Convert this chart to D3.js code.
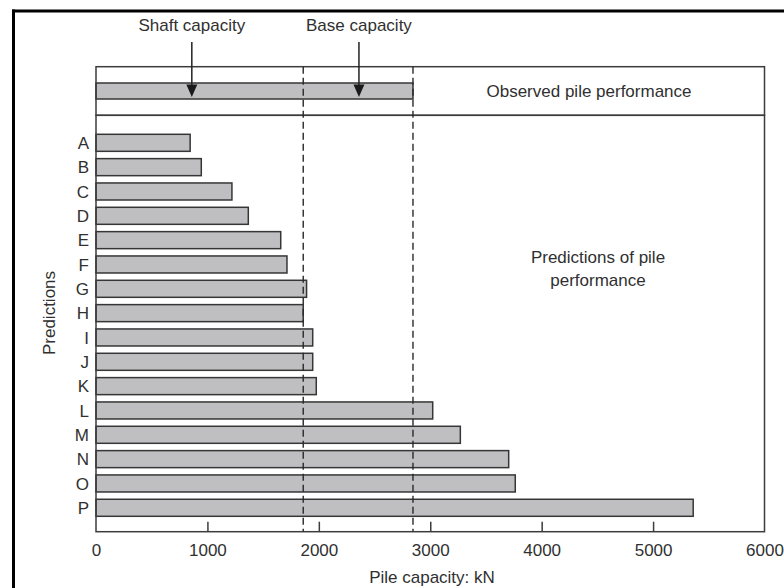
<!DOCTYPE html>
<html>
<head>
<meta charset="utf-8">
<script src="https://cdn.jsdelivr.net/npm/d3@7"></script>
<style>
  html, body { margin: 0; padding: 0; background: #fff; }
  svg { display: block; }
  text { font-family: "Liberation Sans", Arial, Helvetica, sans-serif; fill: #303030; }
</style>
</head>
<body>
<svg id="chart" width="784" height="588"></svg>
<script>
// Predicted pile capacities (kN) for each predictor
const predictors = ["A","B","C","D","E","F","G","H","I","J","K","L","M","N","O","P"];
const predictedCapacity = [845, 945, 1220, 1367, 1658, 1714, 1890, 1860, 1945, 1945, 1977, 3022, 3270, 3704, 3763, 5360];

// Measured load test result
const observedCapacity = [2845];
const observedLabel = ["Observed pile performance"];

// Reference lines: shaft capacity and total (shaft + base) capacity
const referenceLines = [1860, 2845];

// Arrow annotations pointing into the observed bar
const arrowLabels = ["Shaft capacity", "Base capacity"];
const arrowPositions = [860, 2360];

// Axis ticks
const xTicks = [0, 1000, 2000, 3000, 4000, 5000, 6000];
const xDomain = [0, 6000];

const svg = d3.select("#chart");

const left = 96, right = 764.5;
const topBoxTop = 66.7, topBoxBottom = 115.3, plotBottom = 531.7;

const x = d3.scaleLinear().domain(xDomain).range([left, right]);
const y = d3.scaleBand().domain(predictors).range([130.65, 519.95])
  .paddingInner(0.3).paddingOuter(0.15);

// Outer frame (top and left edges)
svg.append("line").attr("x1", 12).attr("x2", 784).attr("y1", 11).attr("y2", 11)
  .attr("stroke", "#000").attr("stroke-width", 3);
svg.append("line").attr("x1", 13.5).attr("x2", 13.5).attr("y1", 9.5).attr("y2", 588)
  .attr("stroke", "#000").attr("stroke-width", 3);

const barFill = "#bfbfc2", barStroke = "#363636";

// Prediction bars
svg.append("g").selectAll("rect").data(predictors).join("rect")
  .attr("x", x(0))
  .attr("y", d => y(d))
  .attr("width", (d, i) => x(predictedCapacity[i]) - x(0))
  .attr("height", y.bandwidth())
  .attr("fill", barFill)
  .attr("stroke", barStroke)
  .attr("stroke-width", 1.5);

// Observed bar
const obsCenter = (topBoxTop + topBoxBottom) / 2;
svg.append("g").selectAll("rect").data(observedCapacity).join("rect")
  .attr("x", x(0))
  .attr("y", obsCenter - 8)
  .attr("width", d => x(d) - x(0))
  .attr("height", 16)
  .attr("fill", barFill)
  .attr("stroke", barStroke)
  .attr("stroke-width", 1.5);

// Panel frames
const frame = svg.append("g").attr("fill", "none").attr("stroke", "#3c3c3c").attr("stroke-width", 1.5);
frame.append("rect").attr("x", left).attr("y", topBoxTop)
  .attr("width", right - left).attr("height", topBoxBottom - topBoxTop);
frame.append("rect").attr("x", left).attr("y", topBoxBottom)
  .attr("width", right - left).attr("height", plotBottom - topBoxBottom);

// Dashed reference lines, drawn over the bars
svg.append("g").selectAll("line").data(referenceLines).join("line")
  .attr("x1", d => x(d)).attr("x2", d => x(d))
  .attr("y1", topBoxTop).attr("y2", plotBottom)
  .attr("stroke", "#2a2a2a").attr("stroke-width", 1.4)
  .attr("stroke-dasharray", "7,4");

// Bottom axis with inward ticks
const xAxis = d3.axisBottom(x).tickValues(xTicks).tickSize(-10).tickPadding(0).tickFormat(d3.format("d"));
const gx = svg.append("g").attr("transform", `translate(0,${plotBottom})`).call(xAxis);
gx.select(".domain").remove();
gx.selectAll(".tick line").attr("stroke", "#3c3c3c").attr("stroke-width", 1.5)
  .filter(d => d === xDomain[0] || d === xDomain[1]).remove();
gx.selectAll(".tick text").attr("y", 24).attr("dy", 0)
  .style("font-size", "17px").style("font-family", "'Liberation Sans', Arial, sans-serif")
  .attr("fill", "#303030");

// Category labels
svg.append("g").selectAll("text").data(predictors).join("text")
  .attr("x", 89)
  .attr("y", d => y(d) + y.bandwidth() / 2)
  .attr("dy", "0.36em")
  .attr("text-anchor", "end")
  .style("font-size", "17px")
  .text(d => d);

// Axis titles
svg.append("text").attr("x", 432).attr("y", 583).attr("text-anchor", "middle")
  .style("font-size", "17px").text("Pile capacity: kN");
svg.append("text").attr("transform", "translate(55,313) rotate(-90)").attr("text-anchor", "middle")
  .style("font-size", "17px").text("Predictions");

// Panel annotations
svg.append("text").attr("x", 589).attr("y", obsCenter + 6).attr("text-anchor", "middle")
  .style("font-size", "17px").text(observedLabel[0]);
const pred = svg.append("text").attr("x", 598).attr("y", 263).attr("text-anchor", "middle")
  .style("font-size", "17px");
pred.append("tspan").attr("x", 598).text("Predictions of pile");
pred.append("tspan").attr("x", 598).attr("dy", 23).text("performance");

// Arrows with labels
const arrows = svg.append("g").selectAll("g").data(arrowLabels).join("g")
  .attr("transform", (d, i) => `translate(${x(arrowPositions[i])},0)`);
arrows.append("text").attr("y", 31).attr("text-anchor", "middle")
  .style("font-size", "17px").text(d => d);
arrows.append("line").attr("x1", 0).attr("x2", 0).attr("y1", 42).attr("y2", 88)
  .attr("stroke", "#222").attr("stroke-width", 1.5);
arrows.append("path").attr("d", "M-5.5,84.5 L5.5,84.5 L0,97 Z").attr("fill", "#1a1a1a");
</script>
</body>
</html>
